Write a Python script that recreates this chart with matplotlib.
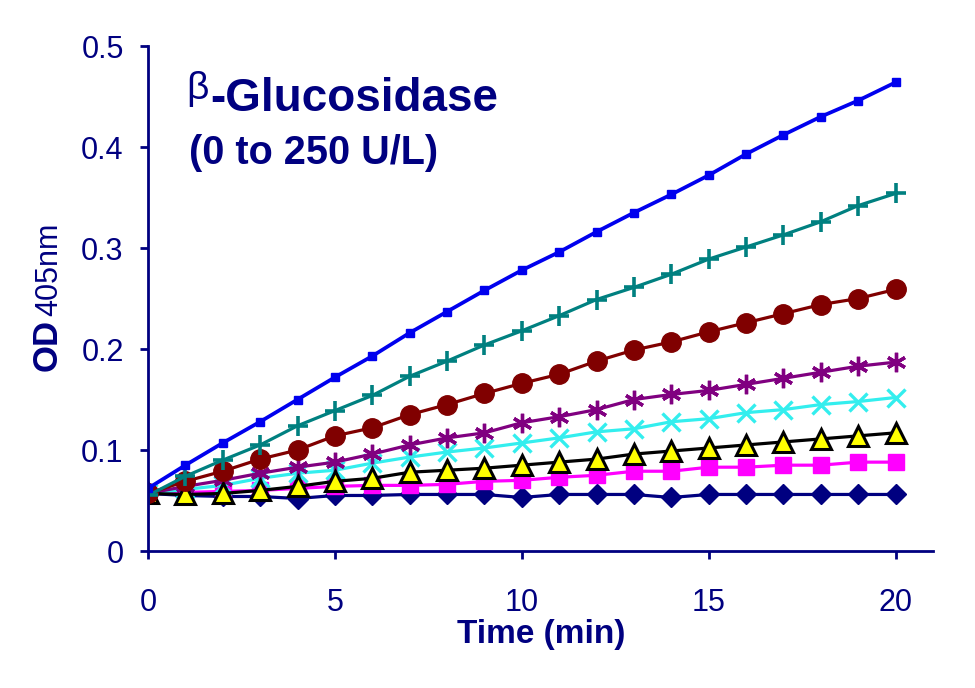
import numpy as np
import matplotlib
matplotlib.use('Agg')
import matplotlib.pyplot as plt

plt.rcParams['font.family'] = ['Liberation Sans', 'DejaVu Sans']

navy = '#000080'

time = list(range(21))
# OD405 readings for each enzyme level (U/L)
u0 = [0.057, 0.055, 0.054, 0.054, 0.052, 0.055, 0.055, 0.056, 0.056, 0.056, 0.053,
      0.056, 0.056, 0.056, 0.053, 0.056, 0.056, 0.056, 0.056, 0.056, 0.056]
u25 = [0.057, 0.058, 0.059, 0.060, 0.062, 0.064, 0.065, 0.065, 0.066, 0.069, 0.070,
       0.073, 0.075, 0.079, 0.079, 0.083, 0.083, 0.085, 0.085, 0.088, 0.088]
u50 = [0.057, 0.056, 0.057, 0.060, 0.064, 0.069, 0.072, 0.078, 0.080, 0.082, 0.085,
       0.088, 0.091, 0.096, 0.099, 0.102, 0.105, 0.108, 0.111, 0.114, 0.117]
u75 = [0.057, 0.061, 0.065, 0.072, 0.077, 0.080, 0.087, 0.093, 0.098, 0.102, 0.107,
       0.112, 0.118, 0.121, 0.128, 0.131, 0.137, 0.140, 0.145, 0.148, 0.152]
u100 = [0.057, 0.064, 0.070, 0.077, 0.083, 0.088, 0.096, 0.105, 0.112, 0.117, 0.127,
        0.133, 0.140, 0.150, 0.155, 0.159, 0.165, 0.171, 0.177, 0.183, 0.187]
u150 = [0.057, 0.069, 0.079, 0.091, 0.100, 0.114, 0.122, 0.135, 0.145, 0.156, 0.166,
        0.175, 0.188, 0.199, 0.207, 0.217, 0.226, 0.235, 0.244, 0.250, 0.259]
u200 = [0.055, 0.074, 0.090, 0.105, 0.124, 0.139, 0.154, 0.173, 0.188, 0.204, 0.218,
        0.233, 0.249, 0.261, 0.274, 0.289, 0.301, 0.313, 0.326, 0.342, 0.354]
u250 = [0.062, 0.085, 0.107, 0.128, 0.150, 0.172, 0.193, 0.216, 0.237, 0.258, 0.278,
        0.296, 0.316, 0.335, 0.353, 0.372, 0.393, 0.412, 0.430, 0.446, 0.464]

fig = plt.figure(figsize=(9.75, 6.88), dpi=100)
ax = fig.add_axes([0.1518, 0.1991, 0.805, 0.734])

lw = 2.3
ax.plot(time, u0, color=navy, lw=lw, marker='D', ms=10, mfc=navy, mec=navy)
ax.plot(time, u25, color='#ff00ff', lw=lw, marker='s', ms=12, mfc='#ff00ff', mec='#ff00ff')
ax.plot(time, u75, color='#33eeee', lw=lw, marker='x', ms=13, mew=2.4)
ax.plot(time, u100, color='#800080', lw=lw, marker=(6, 2, 0), ms=14, mew=2.4)
ax.plot(time, u50, color='black', lw=lw, marker='^', ms=14, mfc='#ffff00', mec='black', mew=2.2)
ax.plot(time, u150, color='#800000', lw=lw, marker='o', ms=14, mfc='#800000', mec='#800000')
ax.plot(time, u200, color='#008080', lw=lw, marker='+', ms=14, mew=2.6)
ax.plot(time, u250, color='#0000ee', lw=lw + 0.4, marker='s', ms=5.5, mfc='#0000ee', mec='#0000ee')

ax.set_xlim(0, 21)
ax.set_ylim(0, 0.5)
ax.set_xticks([0, 5, 10, 15, 20])
ax.set_yticks([0, 0.1, 0.2, 0.3, 0.4, 0.5])
ax.set_yticklabels(['0', '0.1', '0.2', '0.3', '0.4', '0.5'])

for s in ['top', 'right']:
    ax.spines[s].set_visible(False)
for s in ['left', 'bottom']:
    ax.spines[s].set_color(navy)
    ax.spines[s].set_linewidth(2)
ax.tick_params(axis='both', colors=navy, width=2, length=5.5, labelsize=22)
ax.tick_params(axis='y', pad=12)
ax.tick_params(axis='x', pad=21)
for c in ax.spines.values():
    c.set_clip_on(False)

# x label
fig.text(541 / 975, 1 - 634 / 688, 'Time (min)', fontsize=24, fontweight='bold',
         color=navy, ha='center', va='center')

# y label: bold "OD" + regular "405nm"
fig.text(64 / 975, 1 - 371 / 688, 'OD', rotation=90, ha='right', va='bottom',
         fontsize=25, fontweight='bold', color=navy)
fig.text(64 / 975, 1 - 316 / 688, '405nm', rotation=90, ha='right', va='bottom',
         fontsize=22, color=navy)

# title inside the plot
fig.text(186 / 975, 1 - 99 / 688, '\u03b2', fontsize=28, color=navy, va='baseline')
fig.text(210 / 975, 1 - 111 / 688, '-Glucosidase', fontsize=33, fontweight='bold',
         color=navy, va='baseline')
fig.text(189 / 975, 1 - 164 / 688, '(0 to 250 U/L)', fontsize=28.5, fontweight='bold',
         color=navy, va='baseline')

fig.savefig('out.png', dpi=100)
